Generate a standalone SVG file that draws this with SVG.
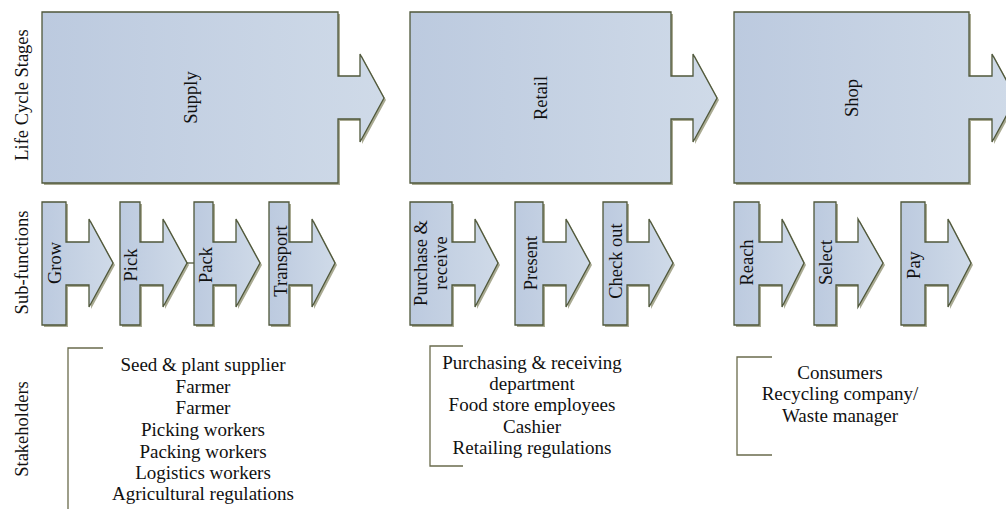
<svg xmlns="http://www.w3.org/2000/svg" width="1006" height="509" viewBox="0 0 1006 509">
  <defs>
    <linearGradient id="fillGrad" x1="0" y1="0" x2="1" y2="0">
      <stop offset="0" stop-color="#bccadf"/>
      <stop offset="1" stop-color="#cfdae8"/>
    </linearGradient>
  </defs>
  <style>
    .shadow { fill: #a9aa92; stroke: none; }
    .shape { fill: url(#fillGrad); stroke: #4f573a; stroke-width: 1.3; stroke-linejoin: miter; }
    .lbl { font-family: "Liberation Serif", "Times New Roman", serif; font-size: 18.5px; fill: #111; text-anchor: middle; }
    .row { font-family: "Liberation Serif", "Times New Roman", serif; font-size: 19px; fill: #111; text-anchor: middle; }
    .bracket { fill: none; stroke: #6a6b4c; stroke-width: 1.3; }
    .conn { fill: none; stroke: #4f573a; stroke-width: 1.3; }
  </style>

  <!-- Row labels -->
  <g id="row-labels">
    <text class="lbl" transform="translate(28,95) rotate(-90)">Life Cycle Stages</text>
    <text class="lbl" transform="translate(28,262.5) rotate(-90)">Sub-functions</text>
    <text class="lbl" transform="translate(28,429) rotate(-90)">Stakeholders</text>
  </g>

  <!-- Life cycle stages -->
  <g id="stage-supply">
    <path class="shadow" transform="translate(2,2)" d="M42,12 H338 V76 H360 V54 L384,98 L360,142 V119 H338 V183 H42 Z"/>
    <path class="shape" d="M42,12 H338 V76 H360 V54 L384,98 L360,142 V119 H338 V183 H42 Z"/>
    <text class="lbl" transform="translate(197,97.5) rotate(-90)">Supply</text>
  </g>
  <g id="stage-retail">
    <path class="shadow" transform="translate(2,2)" d="M410,12 H671 V76 H693 V54 L717,98 L693,142 V119 H671 V183 H410 Z"/>
    <path class="shape" d="M410,12 H671 V76 H693 V54 L717,98 L693,142 V119 H671 V183 H410 Z"/>
    <text class="lbl" transform="translate(547,98) rotate(-90)">Retail</text>
  </g>
  <g id="stage-shop">
    <path class="shadow" transform="translate(2,2)" d="M734,12 H969 V76 H992 V54 L1016,98 L992,142 V119 H969 V183 H734 Z"/>
    <path class="shape" d="M734,12 H969 V76 H992 V54 L1016,98 L992,142 V119 H969 V183 H734 Z"/>
    <text class="lbl" transform="translate(858,98) rotate(-90)">Shop</text>
  </g>

  <!-- Sub-functions -->
  <g id="sub-grow">
    <path class="shadow" transform="translate(2,2)" d="M42,202 H66 V242 H89 V219 L113,263 L89,307 V285 H66 V325 H42 Z"/>
    <path class="shape" d="M42,202 H66 V242 H89 V219 L113,263 L89,307 V285 H66 V325 H42 Z"/>
    <text class="lbl" transform="translate(61,263) rotate(-90)">Grow</text>
  </g>
  <g id="sub-pick">
    <path class="shadow" transform="translate(2,2)" d="M120,202 H140 V242 H163 V219 L187,263 L163,307 V285 H140 V325 H120 Z"/>
    <path class="shape" d="M120,202 H140 V242 H163 V219 L187,263 L163,307 V285 H140 V325 H120 Z"/>
    <text class="lbl" transform="translate(137,265) rotate(-90)">Pick</text>
  </g>
  <g id="sub-pack">
    <path class="shadow" transform="translate(2,2)" d="M194,202 H213 V242 H236 V219 L260,263 L236,307 V285 H213 V325 H194 Z"/>
    <path class="shape" d="M194,202 H213 V242 H236 V219 L260,263 L236,307 V285 H213 V325 H194 Z"/>
    <text class="lbl" transform="translate(212,265) rotate(-90)">Pack</text>
  </g>
  <g id="sub-transport">
    <path class="shadow" transform="translate(2,2)" d="M269,202 H289 V242 H312 V219 L335,263 L312,307 V285 H289 V325 H269 Z"/>
    <path class="shape" d="M269,202 H289 V242 H312 V219 L335,263 L312,307 V285 H289 V325 H269 Z"/>
    <text class="lbl" transform="translate(287,261) rotate(-90)">Transport</text>
  </g>
  <g id="sub-purchase">
    <path class="shadow" transform="translate(2,2)" d="M410,202 H452 V242 H475 V219 L498,263 L475,307 V285 H452 V325 H410 Z"/>
    <path class="shape" d="M410,202 H452 V242 H475 V219 L498,263 L475,307 V285 H452 V325 H410 Z"/>
    <text class="lbl" transform="translate(427,263) rotate(-90)">Purchase &amp;</text>
    <text class="lbl" transform="translate(447,263) rotate(-90)">receive</text>
  </g>
  <g id="sub-present">
    <path class="shadow" transform="translate(2,2)" d="M515,202 H543 V242 H566 V219 L590,263 L566,307 V285 H543 V325 H515 Z"/>
    <path class="shape" d="M515,202 H543 V242 H566 V219 L590,263 L566,307 V285 H543 V325 H515 Z"/>
    <text class="lbl" transform="translate(537,263) rotate(-90)">Present</text>
  </g>
  <g id="sub-checkout">
    <path class="shadow" transform="translate(2,2)" d="M603,202 H627 V242 H649 V219 L673,263 L649,307 V285 H627 V325 H603 Z"/>
    <path class="shape" d="M603,202 H627 V242 H649 V219 L673,263 L649,307 V285 H627 V325 H603 Z"/>
    <text class="lbl" transform="translate(622,261) rotate(-90)">Check out</text>
  </g>
  <g id="sub-reach">
    <path class="shadow" transform="translate(2,2)" d="M734,202 H759 V242 H782 V219 L804,263 L782,307 V285 H759 V325 H734 Z"/>
    <path class="shape" d="M734,202 H759 V242 H782 V219 L804,263 L782,307 V285 H759 V325 H734 Z"/>
    <text class="lbl" transform="translate(753,262.5) rotate(-90)">Reach</text>
  </g>
  <g id="sub-select">
    <path class="shadow" transform="translate(2,2)" d="M814,202 H836 V242 H858 V219 L883,263 L858,307 V285 H836 V325 H814 Z"/>
    <path class="shape" d="M814,202 H836 V242 H858 V219 L883,263 L858,307 V285 H836 V325 H814 Z"/>
    <text class="lbl" transform="translate(832,262.5) rotate(-90)">Select</text>
  </g>
  <g id="sub-pay">
    <path class="shadow" transform="translate(2,2)" d="M901,202 H925 V242 H948 V219 L971,263 L948,307 V285 H925 V325 H901 Z"/>
    <path class="shape" d="M901,202 H925 V242 H948 V219 L971,263 L948,307 V285 H925 V325 H901 Z"/>
    <text class="lbl" transform="translate(920,265) rotate(-90)">Pay</text>
  </g>

  <!-- Connectors -->
  <g id="connectors">
    <line class="conn" x1="187" y1="263" x2="194" y2="263"/>
  </g>

  <!-- Stakeholders -->
  <g id="stakeholders-supply">
    <path class="bracket" d="M103,348 H68 V509"/>
    <text class="row" x="203" y="371">Seed &amp; plant supplier</text>
    <text class="row" x="203" y="393">Farmer</text>
    <text class="row" x="203" y="414">Farmer</text>
    <text class="row" x="203" y="436">Picking workers</text>
    <text class="row" x="203" y="458">Packing workers</text>
    <text class="row" x="203" y="479">Logistics workers</text>
    <text class="row" x="203" y="500">Agricultural regulations</text>
  </g>
  <g id="stakeholders-retail">
    <path class="bracket" d="M463,346 H430 V466 H463"/>
    <text class="row" x="532" y="369">Purchasing &amp; receiving</text>
    <text class="row" x="532" y="390">department</text>
    <text class="row" x="532" y="411">Food store employees</text>
    <text class="row" x="532" y="433">Cashier</text>
    <text class="row" x="532" y="454">Retailing regulations</text>
  </g>
  <g id="stakeholders-shop">
    <path class="bracket" d="M772,357 H737 V455 H772"/>
    <text class="row" x="840" y="379">Consumers</text>
    <text class="row" x="840" y="400">Recycling company/</text>
    <text class="row" x="840" y="422">Waste manager</text>
  </g>
</svg>
